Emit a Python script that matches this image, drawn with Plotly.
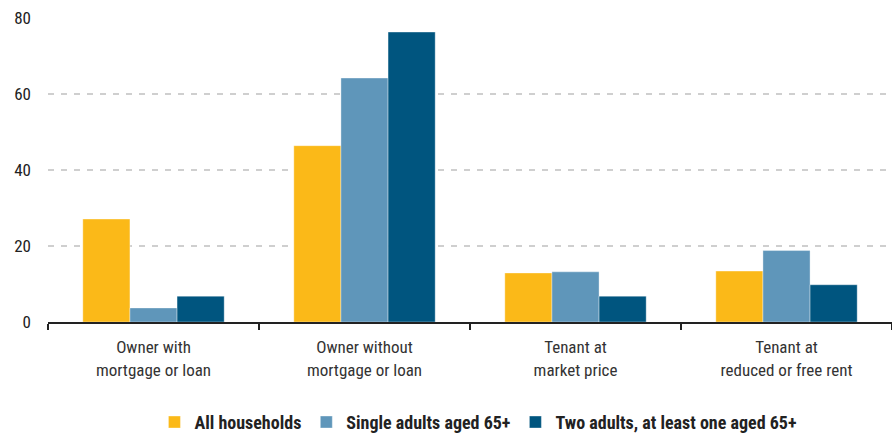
import plotly.graph_objects as go

categories = ["Owner with<br>mortgage or loan", "Owner without<br>mortgage or loan",
              "Tenant at<br>market price", "Tenant at<br>reduced or free rent"]
all_households = [27.1, 46.4, 12.9, 13.4]
single_65 = [3.7, 64.2, 13.2, 18.8]
two_adults_65 = [6.8, 76.3, 6.8, 9.8]

series = [
    ("All households", all_households, "#FBB918"),
    ("Single adults aged 65+", single_65, "#5F96BA"),
    ("Two adults, at least one aged 65+", two_adults_65, "#00557F"),
]

font_family = "Roboto Condensed, Liberation Sans Narrow, Roboto, sans-serif"

fig = go.Figure()
for name, vals, color in series:
    fig.add_trace(go.Bar(x=categories, y=vals, name=name, marker_color=color,
                         marker_line_width=0.6, marker_line_color="rgba(255,255,255,0.6)"))

fig.update_layout(
    width=892, height=433,
    margin=dict(l=48, r=0, t=18, b=111, autoexpand=False),
    paper_bgcolor="white", plot_bgcolor="white",
    barmode="group", bargap=0.33, bargroupgap=0,
    font=dict(family=font_family, size=16, color="#333333"),
    showlegend=True,
    legend=dict(orientation="h", x=0.51, xanchor="center", y=-0.33, yanchor="middle",
                font=dict(family=font_family, size=18, color="#222222", weight="bold"),
                itemwidth=30, tracegroupgap=0, traceorder="normal"),
)
fig.update_xaxes(
    showline=True, linecolor="#222222", linewidth=2, automargin=False,
    ticks="outside", tickson="boundaries", ticklen=6, tickwidth=2, tickcolor="#222222",
    ticklabelstandoff=9,
    tickfont=dict(size=17, color="#333333"), showgrid=False,
)
fig.update_yaxes(
    range=[0, 80], tickvals=[0, 20, 40, 60, 80], showline=False, zeroline=False,
    automargin=False,
    showgrid=True, gridcolor="#CFCFCF", gridwidth=1.5, griddash="6px,7px",
    ticks="", ticklabelstandoff=16, tickfont=dict(size=17, color="#222222"),
)
fig.write_html("out.html", config={"displayModeBar": False},
               post_script="document.body.style.margin='0';document.body.style.padding='0';")
